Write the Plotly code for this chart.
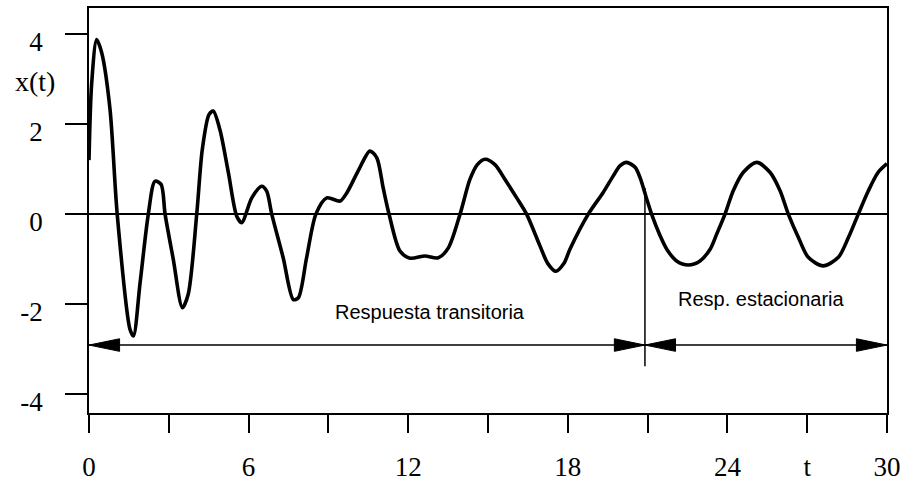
import plotly.graph_objects as go

# Response x(t): transient oscillation settling into a steady sinusoid
t_vals = [0.0, 0.1, 0.29, 0.48, 0.79, 1.06, 1.54, 1.67, 1.92, 2.23, 2.48, 2.71, 2.86,
          3.17, 3.51, 3.73, 4.05, 4.26, 4.51, 4.67, 4.92, 5.24, 5.55, 5.74, 6.12, 6.49,
          6.68, 6.87, 7.3, 7.68, 7.87, 8.18, 8.53, 8.94, 9.44, 9.69, 10.12, 10.56, 10.82,
          11.06, 11.28, 11.69, 12.07, 12.63, 13.13, 13.51, 13.95, 14.32, 14.6, 14.89,
          15.26, 15.64, 16.08, 16.45, 16.95, 17.25, 17.55, 17.85, 18.08, 18.77,
          19.33, 19.71, 19.96, 20.21, 20.53, 20.71, 20.97, 21.15, 21.47, 21.72, 22.09,
          22.53, 22.97, 23.35, 23.6, 23.91, 24.22, 24.6, 25.1, 25.6, 25.98, 26.29,
          26.67, 27.04, 27.6, 28.17, 28.55, 28.92, 29.3, 29.67, 30.0]
x_vals = [1.2, 2.9, 3.88, 3.58, 2.33, 0.0, -2.56, -2.71, -1.53, 0.0, 0.73, 0.66, 0.0,
          -1.01, -2.08, -1.78, 0.0, 1.44, 2.21, 2.29, 1.88, 0.92, -0.04, -0.19, 0.36, 0.62,
          0.51, 0.0, -0.97, -1.9, -1.86, -0.97, 0.0, 0.36, 0.29, 0.47, 0.96, 1.4, 1.25,
          0.58, 0.0, -0.82, -0.98, -0.93, -0.97, -0.75, 0.0, 0.77, 1.1, 1.22,
          1.1, 0.77, 0.36, 0.0, -0.7, -1.1, -1.27, -1.1, -0.78, 0.0,
          0.48, 0.85, 1.07, 1.15, 1.04, 0.82, 0.33, 0.0, -0.48, -0.78, -1.04,
          -1.13, -1.04, -0.78, -0.44, 0.0, 0.52, 0.93, 1.15, 0.93, 0.52, 0.0,
          -0.52, -0.96, -1.15, -0.96, -0.52, 0.0, 0.52, 0.93, 1.12]

x_tickvals = [0, 3, 6, 9, 12, 15, 18, 21, 24, 27, 30]
x_ticktext = ["0", "", "6", "", "12", "", "18", "", "24", "t", "30"]
y_tickvals = [-4, -2, 0, 2, 4]
y_ticktext = ["-4", "-2", "0", "2", "4"]

t_split = 20.9      # boundary between transient and steady-state
arrow_y = -2.91     # level of the dimension arrows
split_top = 0.58
split_bottom = -3.38
label_transient = "Respuesta transitoria"
label_steady = "Resp. estacionaria"

serif = "Liberation Serif"
sans = "Liberation Sans"

fig = go.Figure()
fig.add_trace(go.Scatter(
    x=t_vals, y=x_vals, mode="lines",
    line=dict(color="black", width=3.6, shape="spline", smoothing=0.8),
    hoverinfo="skip", showlegend=False,
))

shapes = []
# dimension lines
shapes.append(dict(type="line", xref="x", yref="y", x0=0, x1=t_split, y0=arrow_y, y1=arrow_y,
                   line=dict(color="black", width=1.5)))
shapes.append(dict(type="line", xref="x", yref="y", x0=t_split, x1=30, y0=arrow_y, y1=arrow_y,
                   line=dict(color="black", width=1.5)))
# split marker
shapes.append(dict(type="line", xref="x", yref="y", x0=t_split, x1=t_split,
                   y0=split_top, y1=split_bottom, line=dict(color="black", width=1.5)))

# filled arrowheads
head_len = 1.15
head_half = 0.14


def head(tip, direction):
    base = tip - direction * head_len
    return dict(type="path", xref="x", yref="y",
                path=f"M {tip},{arrow_y} L {base},{arrow_y + head_half} L {base},{arrow_y - head_half} Z",
                fillcolor="black", line=dict(color="black", width=1))


shapes += [head(0, -1), head(t_split, 1), head(t_split, -1), head(30, 1)]

annotations = [
    dict(x=12.82, y=-2.18, xref="x", yref="y", text=label_transient, showarrow=False,
         font=dict(family=sans, size=20, color="black")),
    dict(x=25.28, y=-1.89, xref="x", yref="y", text=label_steady, showarrow=False,
         font=dict(family=sans, size=20, color="black")),
    dict(x=-0.068, y=2.95, xref="paper", yref="y", xanchor="center", text="x(t)",
         showarrow=False, font=dict(family=serif, size=28, color="black")),
]

fig.update_layout(
    width=905, height=482,
    margin=dict(l=89, r=18, t=8, b=69, autoexpand=False),
    paper_bgcolor="white", plot_bgcolor="white",
    shapes=shapes, annotations=annotations,
    xaxis=dict(range=[0, 30], tickvals=x_tickvals, ticktext=x_ticktext,
               ticks="outside", ticklen=18, tickwidth=1.5, tickcolor="black",
               showline=True, linewidth=1.5, linecolor="black", mirror=True,
               showgrid=False, zeroline=False, ticklabelstandoff=11, automargin=False,
               tickfont=dict(family=serif, size=27, color="black")),
    yaxis=dict(range=[-4.42, 4.58], tickvals=y_tickvals, ticktext=y_ticktext,
               ticks="outside", ticklen=22, tickwidth=1.5, tickcolor="black",
               showline=True, linewidth=1.5, linecolor="black", mirror=True,
               showgrid=False, zeroline=True, zerolinecolor="black", zerolinewidth=1.8,
               ticklabelstandoff=17, ticklabelshift=7, automargin=False,
               tickfont=dict(family=serif, size=27, color="black")),
)

fig.write_html("out.html")
